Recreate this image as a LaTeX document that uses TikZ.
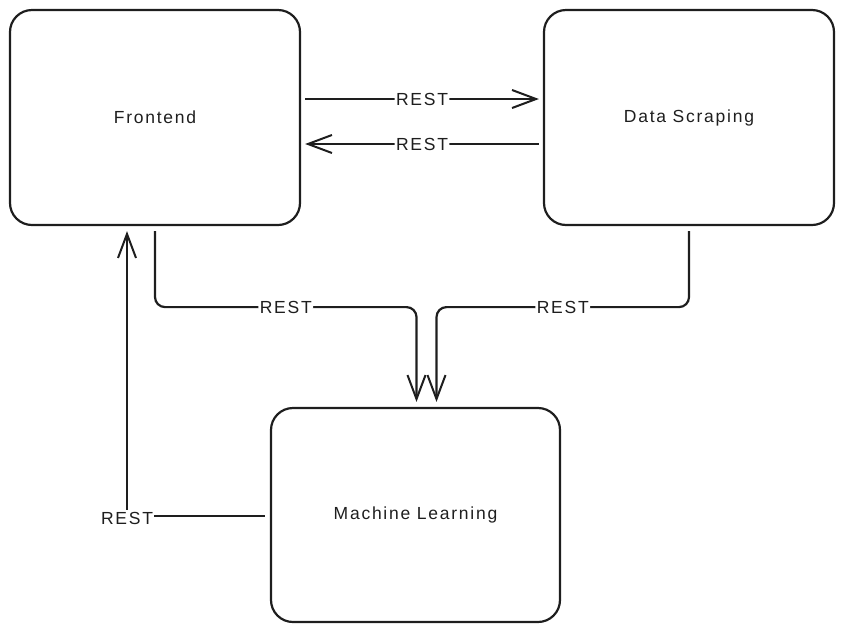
\documentclass[tikz,border=0pt]{standalone}
\usepackage{fontspec}
\setmainfont{Liberation Sans}[LetterSpace=10]
\usetikzlibrary{calc,arrows.meta}
\definecolor{ink}{HTML}{1E1E1E}
\begin{document}
\begin{tikzpicture}[x=1pt,y=-1pt,
  box/.style={draw=ink,line width=2.2pt,rounded corners=22pt,minimum width=290pt,minimum height=215pt,inner sep=0pt,font=\fontsize{17.5}{20}\selectfont,text=ink},
  conn/.style={draw=ink,line width=2.2pt,rounded corners=10pt,-{Straight Barb[length=24pt,width=18pt,line width=2pt]}},
  lbl/.style={fill=white,inner sep=1.5pt,font=\fontsize{17.5}{20}\selectfont,text=ink}]
\useasboundingbox (0,0) rectangle (844,633);
\node[box] (fe) at (155,117.5) {Frontend};
\node[box] (ds) at (689,117.5) {\raisebox{-2pt}{Data Scraping}};
\node[box,minimum width=289pt,minimum height=214pt] (ml) at (415.5,515) {\raisebox{-2pt}{Machine Learning}};
% top arrows
\draw[conn] ($(fe.east)+(4,-18.5)$) -- node[lbl] (l1) {REST} ($(ds.west)+(-4,-18.5)$);
\draw[conn] ($(ds.west)+(-4,26.5)$) -- node[lbl] (l2) {REST} ($(fe.east)+(4,26.5)$);
% down to ML
\draw[conn] ($(fe.south)+(0,5)$) -- ++(0,76) -| node[lbl,pos=0.25] (l3) {REST} ($(ml.north)+(1,-5)$);
\draw[conn] ($(ds.south)+(0,5)$) -- ++(0,76) -| node[lbl,pos=0.25] (l4) {REST} ($(ml.north)+(21,-5)$);
% ML back to frontend
\draw[conn,rounded corners=0pt] ($(ml.west)+(-5,1)$) -| node[lbl,pos=0.5,yshift=-2pt] (l5) {REST} ($(fe.south)+(-28,5)$);
\end{tikzpicture}
\end{document}
